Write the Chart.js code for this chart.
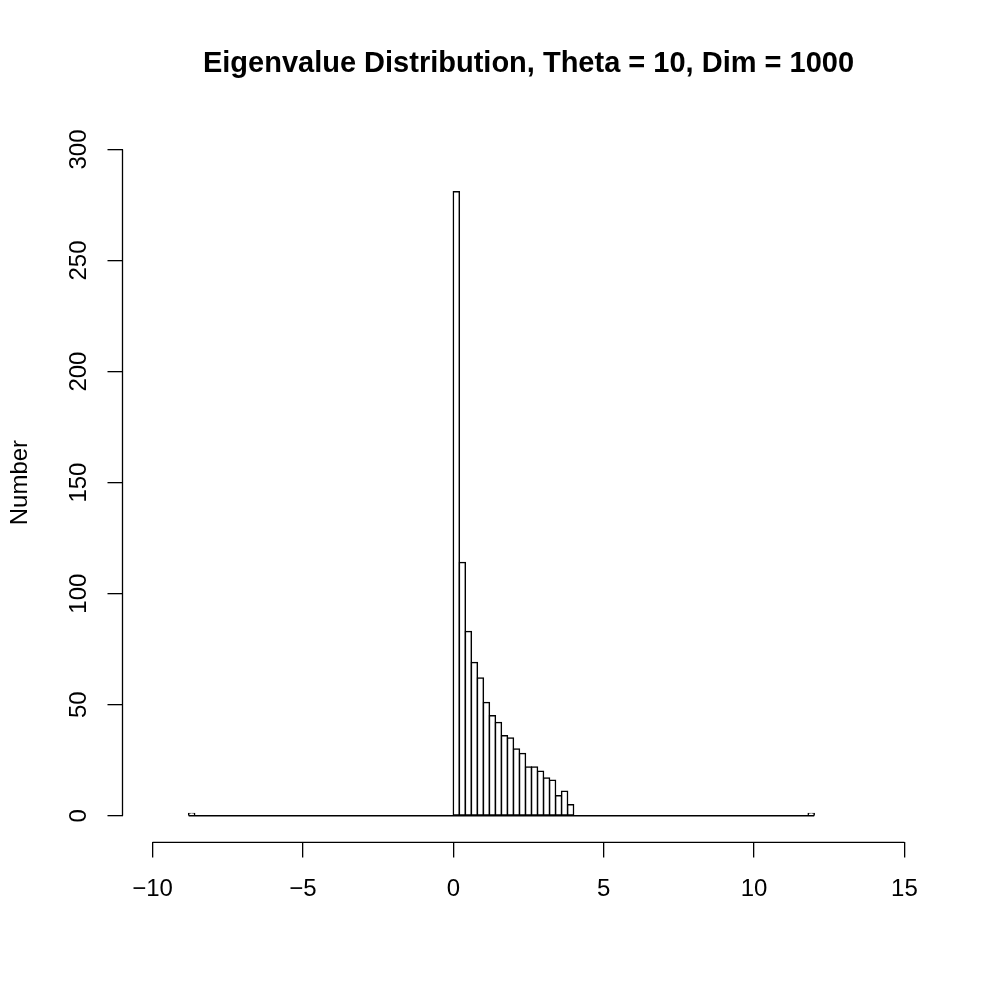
<!DOCTYPE html>
<html>
<head>
<meta charset="utf-8">
<script src="https://cdn.jsdelivr.net/npm/chart.js@4"></script>
<style>
  html, body { margin: 0; padding: 0; background: #fff; }
  #wrap { width: 996px; height: 996px; }
</style>
</head>
<body>
<div id="wrap"><canvas id="histograma" width="996" height="996"></canvas></div>
<script>
// Início (borda esquerda) de cada bin com contagem > 0
const binInicio = [-8.8, 0.0, 0.2, 0.4, 0.6, 0.8, 1.0, 1.2, 1.4, 1.6, 1.8,
    2.0, 2.2, 2.4, 2.6, 2.8, 3.0, 3.2, 3.4, 3.6, 3.8, 11.8];
// Número de autovalores em cada bin
const contagens = [1, 281, 114, 83, 69, 62, 51, 45, 42, 36, 35,
    30, 28, 22, 22, 20, 17, 16, 9, 11, 5, 1];
const larguraBin = 0.2;
// Faixa total dos breaks do histograma (bins vazios viram a linha de base)
const faixaHistograma = [-8.8, 12.0];

const xTicks = [-10, -5, 0, 5, 10, 15];
const xTickLabels = ['\u221210', '\u22125', '0', '5', '10', '15'];
const yTicks = [0, 50, 100, 150, 200, 250, 300];

const fonte = "'Liberation Sans', Arial, Helvetica, sans-serif";

// Linhas dos eixos só entre o primeiro e o último tick (estilo R)
const eixosPlugin = {
    id: 'eixos',
    afterDraw(chart) {
        const { ctx, chartArea, scales } = chart;
        ctx.save();
        ctx.strokeStyle = '#000';
        ctx.lineWidth = 1.3;
        ctx.beginPath();
        ctx.moveTo(scales.x.getPixelForValue(xTicks[0]), chartArea.bottom);
        ctx.lineTo(scales.x.getPixelForValue(xTicks[xTicks.length - 1]), chartArea.bottom);
        ctx.moveTo(chartArea.left, scales.y.getPixelForValue(yTicks[0]));
        ctx.lineTo(chartArea.left, scales.y.getPixelForValue(yTicks[yTicks.length - 1]));
        ctx.stroke();
        ctx.restore();
    }
};

const ctx = document.getElementById('histograma').getContext('2d');

new Chart(ctx, {
    type: 'bar',
    data: {
        datasets: [{
            type: 'bar',
            data: binInicio.map((b, i) => ({ x: b + larguraBin / 2, y: contagens[i] })),
            backgroundColor: '#fff',
            borderColor: '#000',
            borderWidth: 1.5,
            borderSkipped: false,
            inflateAmount: 0.75,
            barPercentage: 1,
            categoryPercentage: 1
        }, {
            type: 'line',
            data: faixaHistograma.map(v => ({ x: v, y: 0 })),
            borderColor: '#000',
            borderWidth: 1.5,
            pointRadius: 0
        }]
    },
    options: {
        responsive: false,
        devicePixelRatio: 1,
        animation: false,
        layout: { padding: { left: 0, right: 61.5, top: 0, bottom: 0 } },
        scales: {
            x: {
                type: 'linear',
                min: -11,
                max: 16,
                offset: false,
                afterBuildTicks: (s) => { s.ticks = xTicks.map(v => ({ value: v })); },
                afterFit: (s) => { s.height = 153.6; },
                border: { display: false },
                grid: { offset: false, drawOnChartArea: false, drawTicks: true, tickLength: 15, color: '#000', lineWidth: 1.3 },
                ticks: {
                    autoSkip: false,
                    maxRotation: 0,
                    color: '#000',
                    padding: 18,
                    font: { family: fonte, size: 24 },
                    callback: (v) => xTickLabels[xTicks.indexOf(v)]
                }
            },
            y: {
                min: -12,
                max: 312,
                afterBuildTicks: (s) => { s.ticks = yTicks.map(v => ({ value: v })); },
                afterFit: (s) => { s.width = 122.5; },
                border: { display: false },
                grid: { drawOnChartArea: false, drawTicks: true, tickLength: 15, color: '#000', lineWidth: 1.3 },
                ticks: {
                    minRotation: 90,
                    maxRotation: 90,
                    crossAlign: 'center',
                    color: '#000',
                    padding: 8,
                    font: { family: fonte, size: 24 }
                },
                title: {
                    display: true,
                    text: 'Number',
                    color: '#000',
                    font: { family: fonte, size: 24 },
                    padding: { top: 6, bottom: 0 }
                }
            }
        },
        plugins: {
            legend: { display: false },
            tooltip: { enabled: false },
            title: {
                display: true,
                fullSize: false,
                text: 'Eigenvalue Distribution, Theta = 10, Dim = 1000',
                color: '#000',
                font: { family: fonte, size: 29, weight: 'bold', lineHeight: 1.2 },
                padding: { top: 47, bottom: 41 }
            }
        }
    },
    plugins: [eixosPlugin]
});
</script>
</body>
</html>
